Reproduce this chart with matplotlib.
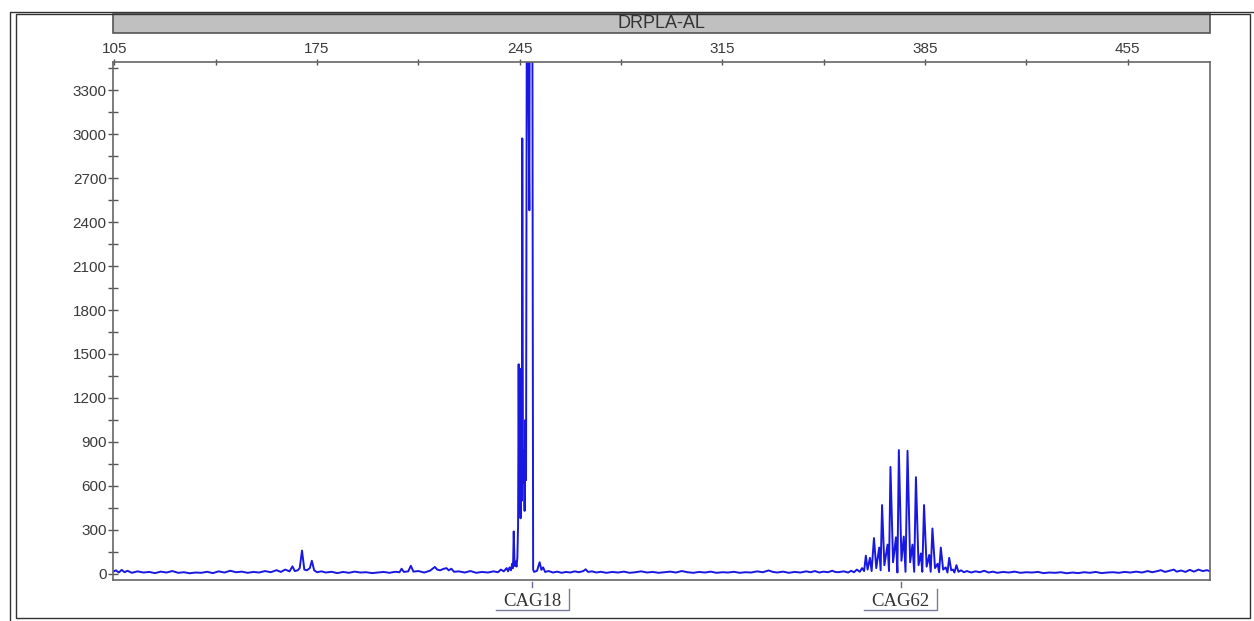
import matplotlib.pyplot as plt
from matplotlib.ticker import MultipleLocator
from matplotlib.patches import Rectangle
from matplotlib.lines import Line2D
import matplotlib.transforms as mtrans

# electropherogram trace (size in bp, signal in RFU)
trace_bp = [
    104.5, 105.5, 106.5, 107.5, 108.5, 109.5, 111, 113, 115, 117, 119, 121, 123, 125, 127, 129,
    131, 133, 135, 137, 139, 141, 143, 145, 147, 149, 151, 153, 155, 157, 159, 161, 162.5, 164,
    165.5, 166.5, 167.3, 168.3, 169.0, 169.8, 170.6, 171.5, 172.5, 173.2, 174, 175, 176.5, 178,
    180, 182, 184, 186, 188, 190, 192, 194, 196, 198, 200, 202, 203.5, 204.2, 205, 206.5, 207.4,
    208.3, 210, 212, 214, 215.7, 216.5, 217.5, 218.7, 219.7, 220.5, 221.4, 222.3, 224, 226, 228,
    230, 232, 234, 236, 237.5, 238.5, 239.5, 240.5,
    # CAG18 cluster
    241.0, 241.5, 242.0, 242.4, 242.7, 242.95, 243.25, 243.6, 243.9, 244.2, 244.45, 244.65,
    244.85, 245.05, 245.3, 245.55, 245.75, 245.9, 246.15, 246.45, 246.7, 246.95, 247.2, 247.55,
    247.9, 248.35, 248.55, 248.9, 249.3, 249.65,
    250.0, 251.0, 251.9, 252.5, 253.1, 253.8, 255, 256.5, 258, 259.5, 261, 262.5, 264, 265.5,
    267, 267.8, 268.6, 270, 271.5, 273, 275, 277, 279, 281, 283, 285, 287, 289, 291, 293, 295,
    297, 299, 301, 303, 305, 307, 309, 311, 313, 315, 317, 319, 321, 323, 325, 327, 329, 331,
    332.5, 334, 336, 338, 340, 342, 344, 345.5, 347, 348.5, 350, 351.5, 353, 354,
    # CAG62 cluster
    355, 357, 358.5, 359.5, 360.5, 361.5, 362.5, 363.3, 364.0, 364.6, 365.2, 366.0, 366.6,
    367.4, 368.2, 369.2, 369.7, 370.2, 371.0, 372.1, 372.6, 373.1, 374.0, 375.0, 375.5, 376.0,
    376.9, 377.7, 378.3, 379.0, 379.9, 380.7, 381.3, 381.9, 382.8, 383.6, 384.1, 384.7, 385.6,
    386.5, 387.0, 387.6, 388.5, 389.4, 389.9, 390.5, 391.3, 392.2, 392.8, 393.4, 394.1, 394.7,
    395.2, 395.9, 396.6, 397.5, 398.5, 399.5, 401,
    402.5, 404, 405.5, 407, 408.5, 410, 412, 414, 416, 418, 420, 422, 424, 426, 428, 430, 432,
    434, 436, 438, 440, 442, 444, 446, 448, 450, 452, 454, 456, 458, 460, 462, 463.5, 465,
    466.5, 468, 469.5, 471, 472, 473.5, 475, 476.5, 478, 479.5, 481, 482.5, 483.5,
]
trace_rfu = [
    15, 25, 10, 28, 12, 22, 8, 18, 10, 14, 6, 16, 10, 20, 8, 12,
    5, 10, 8, 15, 6, 18, 10, 22, 12, 16, 8, 14, 10, 20, 12, 26, 14, 30,
    18, 52, 20, 25, 40, 160, 30, 25, 40, 90, 25, 12, 18, 10,
    15, 6, 14, 8, 16, 10, 12, 6, 10, 14, 8, 15, 12, 36, 14, 18, 56,
    16, 20, 10, 22, 48, 30, 25, 35, 40, 25, 36, 15, 18, 10, 20,
    8, 14, 10, 18, 12, 30, 18, 40,
    18, 45, 25, 70, 40, 290, 55, 85, 50, 110, 330, 1430,
    420, 1400, 380, 1100, 500, 2970, 620, 840, 430, 1050, 640, 5000,
    3600, 2480, 5000, 3600, 5000, 30,
    14, 22, 80, 28, 45, 14, 20, 10, 16, 8, 14, 10, 18, 12,
    20, 32, 14, 18, 10, 15, 8, 14, 10, 16, 8, 12, 18, 10, 14, 8, 12,
    16, 10, 20, 12, 8, 14, 10, 16, 8, 12, 10, 15, 8, 12, 10, 18, 12, 24,
    14, 10, 16, 8, 14, 10, 18, 12, 20, 10, 16, 12, 22, 14,
    12, 18, 10, 22, 12, 30, 15, 40, 20, 125, 30, 110, 20,
    245, 40, 180, 25, 470, 60, 200, 20, 730, 80, 250, 10, 845,
    90, 255, 15, 840, 80, 200, 15, 660, 60, 140, 15, 470, 50,
    130, 15, 310, 40, 70, 12, 180, 30, 45, 10, 110, 25, 30,
    10, 60, 15, 25, 12, 20, 10,
    18, 12, 22, 10, 16, 8, 14, 10, 16, 8, 12, 10, 14, 6, 10, 8, 12,
    5, 10, 6, 12, 8, 14, 6, 10, 12, 8, 14, 10, 16, 10, 20, 12, 18,
    26, 14, 22, 30, 16, 24, 14, 28, 16, 30, 20, 26, 18,
]

size_ticks = [105, 175, 245, 315, 385, 455]
rfu_ticks = [0, 300, 600, 900, 1200, 1500, 1800, 2100, 2400, 2700, 3000, 3300]
marker_names = ['CAG18', 'CAG62']
marker_bp = [249.4, 376.6]
panel_name = 'DRPLA-AL'

W, H = 1254, 621
fig = plt.figure(figsize=(W / 100, H / 100), dpi=100)
ax = fig.add_axes([113 / W, 41 / H, 1097 / W, 518 / H])

ax.plot(trace_bp, trace_rfu, color='#1818e0', lw=1.4)
ax.set_xlim(104.5, 483.5)
ax.set_ylim(-41, 3491)

ax.xaxis.tick_top()
ax.set_xticks(size_ticks)
ax.xaxis.set_minor_locator(MultipleLocator(35))
ax.set_yticks(rfu_ticks)
ax.yaxis.set_minor_locator(MultipleLocator(150))
ax.tick_params(axis='x', which='both', direction='inout', length=5, width=1,
               color='#555555', labelsize=11, labelcolor='#3a3a3a', pad=2)
ax.tick_params(axis='y', which='both', direction='inout', length=7, width=1,
               color='#555555', labelsize=11, labelcolor='#3a3a3a', pad=1)
for lab in ax.get_xticklabels() + ax.get_yticklabels():
    lab.set_fontfamily('Liberation Sans')
for s in ax.spines.values():
    s.set_color('#666666')
    s.set_linewidth(1.2)

# allele markers below the axis
tr = mtrans.blended_transform_factory(ax.transData, ax.transAxes)
half = 12.6
for name, bp in zip(marker_names, marker_bp):
    ax.plot([bp, bp], [-0.004, -0.014], transform=tr, color='#6a6a9a', lw=1, clip_on=False)
    ax.text(bp, -0.041, name, transform=tr, ha='center', va='center', fontsize=13.5,
            family='Liberation Serif', color='#333333', clip_on=False)
    ax.plot([bp - half, bp + half, bp + half], [-0.058, -0.058, -0.017], transform=tr,
            color='#7a7a9a', lw=1, clip_on=False)

# panel title bar
fig.patches.append(Rectangle((113 / W, 1 - 33 / H), 1097 / W, 19 / H, transform=fig.transFigure,
                             facecolor='#c0c0c0', edgecolor='#555555', lw=1.2))
fig.text(661.5 / W, 1 - 23.5 / H, panel_name, ha='center', va='center', fontsize=13,
         family='Liberation Sans', color='#333333')

# outer frame
fig.patches.append(Rectangle((16 / W, 3 / H), 1234 / W, 604 / H, transform=fig.transFigure,
                             facecolor='none', edgecolor='#333333', lw=1))
fig.lines.append(Line2D([10 / W, 10 / W, 1.0], [0, 1 - 11.5 / H, 1 - 11.5 / H],
                        transform=fig.transFigure, color='#333333', lw=1))

fig.savefig('out.png', dpi=100)
